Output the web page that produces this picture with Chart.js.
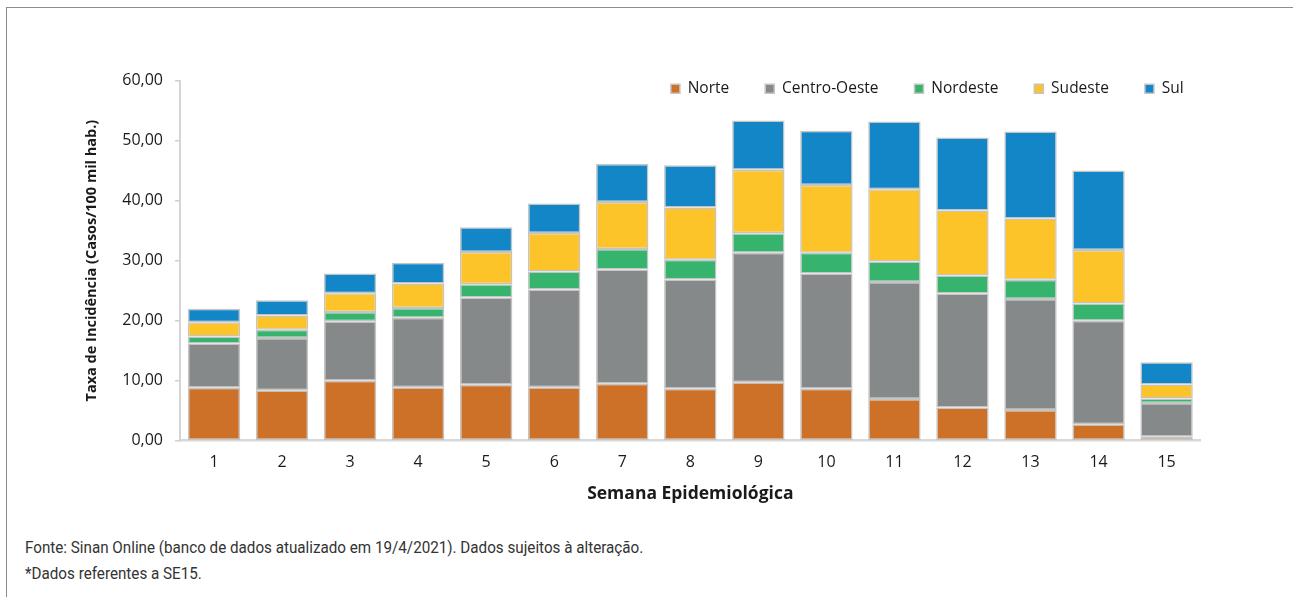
<!DOCTYPE html>
<html lang="pt-BR">
<head>
<meta charset="utf-8">
<title>Taxa de incidência por semana epidemiológica</title>
<script src="https://cdn.jsdelivr.net/npm/chart.js@4/dist/chart.umd.min.js"></script>
<style>
  html, body { margin: 0; padding: 0; background: #fff; }
  body { width: 1293px; height: 597px; position: relative; overflow: hidden; }
  .frame {
    position: absolute; left: 6px; top: 7px; right: 0; bottom: 0;
    border-top: 1px solid #8c8c8c; border-left: 1px solid #8c8c8c;
  }
  .chart-box { position: absolute; left: 0; top: 0; width: 1293px; height: 520px; }
  .notes {
    position: absolute; left: 25px; top: 535px;
    font-family: Roboto, 'Open Sans', sans-serif; font-weight: 400;
    font-size: 16px; line-height: 26px; color: #333;
    transform: scaleX(0.95); transform-origin: left top; white-space: nowrap;
  }
</style>
</head>
<body>
<div class="frame"></div>
<div class="chart-box"><canvas id="incidenciaChart"></canvas></div>
<div class="notes">
  <div>Fonte: Sinan Online (banco de dados atualizado em 19/4/2021). Dados sujeitos à alteração.</div>
  <div>*Dados referentes a SE15.</div>
</div>
<script>
const semanas = ['1', '2', '3', '4', '5', '6', '7', '8', '9', '10', '11', '12', '13', '14', '15']

// taxa por região (casos/100 mil hab.), empilhadas
const norte = [8.8, 8.4, 10.0, 8.9, 9.3, 8.9, 9.5, 8.65, 9.75, 8.65, 6.95, 5.55, 5.1, 2.75, 0.65]
const centroOeste = [7.4, 8.7, 9.9, 11.6, 14.55, 16.3, 19.0, 18.2, 21.55, 19.2, 19.5, 18.95, 18.5, 17.25, 5.65]
const nordeste = [1.15, 1.4, 1.55, 1.6, 2.2, 3.0, 3.45, 3.3, 3.25, 3.45, 3.4, 3.0, 3.2, 2.85, 0.75]
const sudeste = [2.4, 2.35, 3.1, 4.1, 5.4, 6.4, 7.8, 8.7, 10.6, 11.3, 12.05, 10.85, 10.2, 8.9, 2.3]
const sul = [2.25, 2.55, 3.3, 3.45, 4.1, 4.9, 6.35, 7.05, 8.2, 9.05, 11.25, 12.15, 14.5, 13.25, 3.7]

const regioes = ['Norte', 'Centro-Oeste', 'Nordeste', 'Sudeste', 'Sul']
const cores = ['#cd7128', '#868989', '#36b46e', '#fdc42a', '#1386c8']
const series = [norte, centroOeste, nordeste, sudeste, sul]

const yTicks = [0, 10, 20, 30, 40, 50, 60]

Chart.defaults.font.family = "'Open Sans', sans-serif"
Chart.defaults.color = '#1a1a1a'

// legenda sobreposta ao topo da área do gráfico
const LEGEND_HEIGHT = 35.5
const LEGEND_DRAW_HEIGHT = 80
const LEGEND_OVERHANG = 19

const legendOverlay = {
  id: 'legendOverlay',
  beforeInit(chart) {
    const fit = chart.legend.fit
    chart.legend.fit = function () {
      fit.call(this)
      this.height = LEGEND_HEIGHT
    }
  },
  afterLayout(chart) {
    const legend = chart.legend
    legend.right = chart.chartArea.right + LEGEND_OVERHANG
    legend.height = LEGEND_DRAW_HEIGHT
    legend.bottom = legend.top + LEGEND_DRAW_HEIGHT
  },
}

const formatTaxa = v => Number(v).toFixed(2).replace('.', ',')

new Chart(document.getElementById('incidenciaChart'), {
  type: 'bar',
  data: {
    labels: semanas,
    datasets: regioes.map((label, i) => ({
      label,
      data: series[i],
      backgroundColor: cores[i],
      borderColor: '#c4c4c4',
      borderWidth: 1.5,
      borderSkipped: false,
      categoryPercentage: 1,
      barPercentage: 0.77,
    })),
  },
  options: {
    responsive: true,
    maintainAspectRatio: false,
    animation: false,
    layout: {
      padding: { left: 80, right: 92.4, top: 45, bottom: 11.1 },
    },
    plugins: {
      tooltip: { enabled: false },
      legend: {
        position: 'top',
        align: 'end',
        labels: {
          boxWidth: 9,
          boxHeight: 9,
          padding: 36,
          color: '#1a1a1a',
          font: { size: 15.5 },
        },
      },
    },
    scales: {
      x: {
        stacked: true,
        grid: { display: false, drawTicks: false },
        border: { display: true, color: '#d9d9d9', width: 2.5 },
        ticks: { padding: 11.7, color: '#1a1a1a', font: { size: 16 } },
        title: {
          display: true,
          text: 'Semana Epidemiológica',
          color: '#1a1a1a',
          padding: 4,
          font: { size: 17.5, weight: 'bold' },
        },
        afterFit(scale) { scale.height = 68.2 },
      },
      y: {
        stacked: true,
        min: 0,
        max: 60,
        afterBuildTicks(scale) { scale.ticks = yTicks.map(value => ({ value })) },
        grid: {
          drawOnChartArea: false,
          drawTicks: true,
          tickLength: 5,
          color: '#cfcfcf',
          lineWidth: 1.5,
        },
        border: { display: true, color: '#d4d4d4', width: 2 },
        ticks: {
          padding: 12,
          color: '#1a1a1a',
          font: { size: 16 },
          callback: formatTaxa,
        },
        title: {
          display: true,
          text: 'Taxa de Incidência (Casos/100 mil hab.)',
          color: '#1a1a1a',
          padding: 3,
          font: { size: 14.5, weight: 'bold' },
        },
        afterFit(scale) { scale.width = 100 },
      },
    },
  },
  plugins: [legendOverlay],
})
</script>
</body>
</html>
